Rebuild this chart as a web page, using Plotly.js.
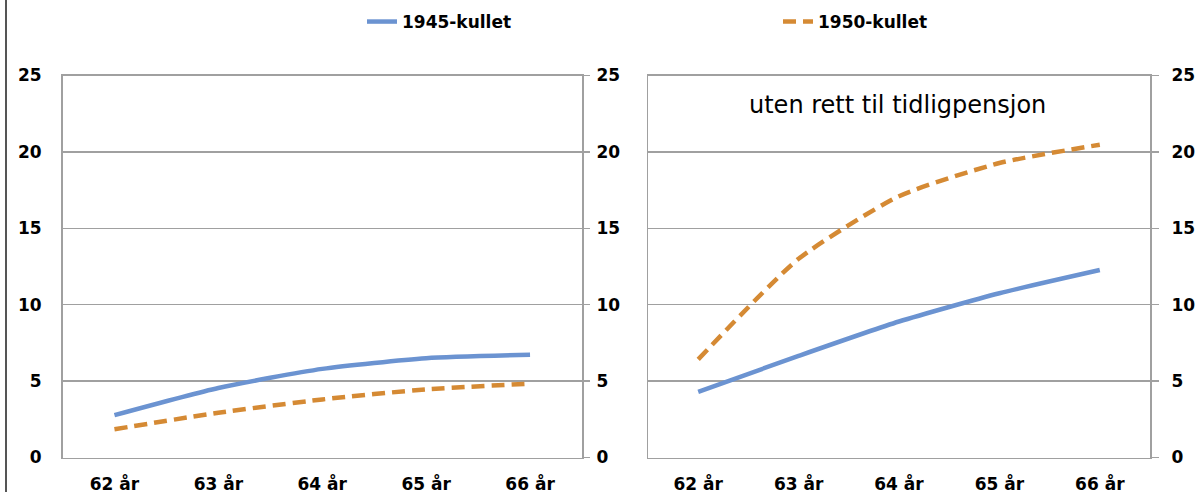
<!DOCTYPE html>
<html>
<head>
<meta charset="utf-8">
<script src="https://cdn.plot.ly/plotly-3.0.1.min.js"></script>
<style>html,body{margin:0;padding:0;background:#fff;}#chart{width:1196px;height:492px;}</style>
</head>
<body>
<div id="chart"></div>
<script>
// Data
const ages = ['62 år', '63 år', '64 år', '65 år', '66 år'];
const seriesNames = ['1945-kullet', '1950-kullet'];
const left1945 = [2.77, 4.55, 5.8, 6.5, 6.72];
const left1950 = [1.85, 2.93, 3.8, 4.46, 4.83];
const right1945 = [4.3, 6.65, 8.9, 10.75, 12.27];
const right1950 = [6.42, 13.0, 17.1, 19.27, 20.47];
const yTicks = [0, 5, 10, 15, 20, 25];
const panelTitle = 'uten rett til tidligpensjon';

const W = 1196, H = 492;
const px = v => v / W;
const py = v => 1 - v / H;

const blue = '#6b93d1';
const orange = '#d58a34';
const gridCol = '#a0a0a0';
const tickFont = {family: 'DejaVu Sans', size: 17, color: '#000', weight: 'bold'};

const line1945 = {color: blue, width: 4.5, shape: 'spline', smoothing: 0.6};
const line1950 = {color: orange, width: 4.5, dash: '13px,7px', shape: 'spline', smoothing: 0.6};

const traces = [
  {x: ages, y: left1945, xaxis: 'x', yaxis: 'y', mode: 'lines', name: seriesNames[0], line: line1945, legend: 'legend', hoverinfo: 'skip'},
  {x: ages, y: left1950, xaxis: 'x', yaxis: 'y', mode: 'lines', name: seriesNames[1], line: line1950, legend: 'legend2', hoverinfo: 'skip'},
  {x: ages, y: right1945, xaxis: 'x2', yaxis: 'y2', mode: 'lines', name: seriesNames[0], line: line1945, showlegend: false, hoverinfo: 'skip'},
  {x: ages, y: right1950, xaxis: 'x2', yaxis: 'y2', mode: 'lines', name: seriesNames[1], line: line1950, showlegend: false, hoverinfo: 'skip'},
  // empty traces that only register the secondary (right-hand) axes
  {x: [], y: [], xaxis: 'x', yaxis: 'y3', mode: 'lines', showlegend: false, hoverinfo: 'skip'},
  {x: [], y: [], xaxis: 'x2', yaxis: 'y4', mode: 'lines', showlegend: false, hoverinfo: 'skip'}
];

const yDomain = [py(457.5), py(75.5)];
const xBase = {
  type: 'category', range: [-0.5, 4.5], showgrid: false, zeroline: false,
  showline: true, linecolor: gridCol, linewidth: 1.5, mirror: true,
  ticks: '', tickfont: tickFont, ticklabelstandoff: 11, fixedrange: true
};
const yBase = {
  range: [0, 25], tickvals: yTicks, showgrid: true, gridcolor: gridCol, gridwidth: 1.5,
  zeroline: false, showline: true, linecolor: gridCol, linewidth: 1.5, mirror: true,
  ticks: '', tickfont: tickFont, domain: yDomain, fixedrange: true
};
const yRight = {
  range: [0, 25], tickvals: yTicks, showgrid: false, zeroline: false, showline: false,
  ticks: 'outside', ticklen: 7, tickwidth: 1.5, tickcolor: gridCol,
  tickfont: tickFont, side: 'right', fixedrange: true
};

const layout = {
  width: W, height: H,
  margin: {l: 0, r: 0, t: 0, b: 0},
  paper_bgcolor: '#fff', plot_bgcolor: '#fff',
  xaxis: Object.assign({}, xBase, {domain: [px(62.5), px(582)], anchor: 'y'}),
  yaxis: Object.assign({}, yBase, {anchor: 'x', ticklabelstandoff: 16}),
  yaxis3: Object.assign({}, yRight, {overlaying: 'y', anchor: 'x', ticklabelstandoff: 3}),
  xaxis2: Object.assign({}, xBase, {domain: [px(648), px(1150)], anchor: 'y2'}),
  yaxis2: Object.assign({}, yBase, {anchor: 'x2', showticklabels: false}),
  yaxis4: Object.assign({}, yRight, {overlaying: 'y2', anchor: 'x2', ticklen: 8, ticklabelstandoff: 9}),
  legend: {x: px(362), xanchor: 'left', y: py(22), yanchor: 'middle', orientation: 'h',
           font: {family: 'DejaVu Sans', size: 17, color: '#000', weight: 'bold'}, bgcolor: 'rgba(0,0,0,0)'},
  legend2: {x: px(778), xanchor: 'left', y: py(22), yanchor: 'middle', orientation: 'h',
            font: {family: 'DejaVu Sans', size: 17, color: '#000', weight: 'bold'}, bgcolor: 'rgba(0,0,0,0)'},
  annotations: [
    {text: panelTitle, xref: 'paper', yref: 'paper', x: px(897), y: py(105), xanchor: 'center', yanchor: 'middle',
     showarrow: false, font: {family: 'DejaVu Sans', size: 24, color: '#000'}}
  ],
  shapes: [
    {type: 'line', xref: 'paper', yref: 'paper', x0: px(6), x1: px(6), y0: 0, y1: 1, line: {color: '#555', width: 2}}
  ]
};

Plotly.newPlot('chart', traces, layout, {displayModeBar: false, staticPlot: true});
</script>
</body>
</html>
